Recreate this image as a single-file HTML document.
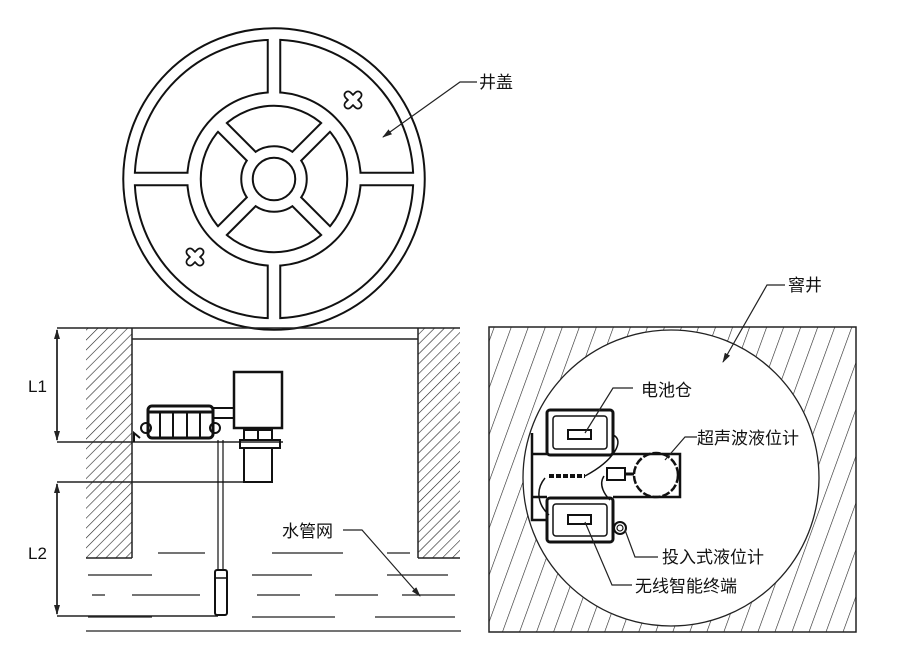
<!DOCTYPE html>
<html><head><meta charset="utf-8"><style>
html,body{margin:0;padding:0;background:#fff;}
svg{display:block;}
text{font-family:"Liberation Sans","Noto Sans CJK SC",sans-serif;font-size:17px;fill:#111;}
</style></head><body>
<svg width="899" height="667" viewBox="0 0 899 667" xmlns="http://www.w3.org/2000/svg">
<defs>
<pattern id="h1" width="7" height="10" patternUnits="userSpaceOnUse" patternTransform="rotate(45)">
<line x1="0" y1="0" x2="0" y2="10" stroke="#222" stroke-width="1.2"/></pattern>
<pattern id="h2" width="16" height="20" patternUnits="userSpaceOnUse" patternTransform="rotate(20)">
<line x1="0" y1="0" x2="0" y2="20" stroke="#222" stroke-width="1.2"/></pattern>
<marker id="ar" markerWidth="10" markerHeight="6" refX="9" refY="3" orient="auto" markerUnits="userSpaceOnUse">
<path d="M0,0 L10,3 L0,6 z" fill="#222"/></marker>
</defs>

<g transform="translate(274,179)" fill="none">
<g stroke="#111">
<circle r="145" stroke-width="13.5"/>
<circle r="80" stroke-width="15.5"/>
<circle r="27" stroke-width="13.5"/>
<g stroke-width="14.5">
<line x1="0" y1="-78" x2="0" y2="-146"/><line x1="0" y1="78" x2="0" y2="146"/>
<line x1="-78" y1="0" x2="-146" y2="0"/><line x1="78" y1="0" x2="146" y2="0"/>
<g transform="rotate(45)"><line x1="0" y1="-25" x2="0" y2="-80"/><line x1="0" y1="25" x2="0" y2="80"/>
<line x1="-25" y1="0" x2="-80" y2="0"/><line x1="25" y1="0" x2="80" y2="0"/></g>
</g></g>
<g stroke="#fff">
<circle r="145" stroke-width="9.5"/>
<circle r="80" stroke-width="11.5"/>
<circle r="27" stroke-width="9.5"/>
<g stroke-width="10.5">
<line x1="0" y1="-78" x2="0" y2="-146"/><line x1="0" y1="78" x2="0" y2="146"/>
<line x1="-78" y1="0" x2="-146" y2="0"/><line x1="78" y1="0" x2="146" y2="0"/>
<g transform="rotate(45)"><line x1="0" y1="-25" x2="0" y2="-80"/><line x1="0" y1="25" x2="0" y2="80"/>
<line x1="-25" y1="0" x2="-80" y2="0"/><line x1="25" y1="0" x2="80" y2="0"/></g>
</g></g>
</g>
<g stroke-linecap="round" fill="none">
<g transform="translate(353,100) rotate(45)"><path d="M-7,0H7M0,-7V7" stroke="#111" stroke-width="9"/><path d="M-7,0H7M0,-7V7" stroke="#fff" stroke-width="5.5"/></g>
<g transform="translate(195,257) rotate(45)"><path d="M-7,0H7M0,-7V7" stroke="#111" stroke-width="9"/><path d="M-7,0H7M0,-7V7" stroke="#fff" stroke-width="5.5"/></g>
</g>
<polyline points="477,82 460,82 383,137" fill="none" stroke="#222" stroke-width="1.2" marker-end="url(#ar)"/>
<text x="479" y="88">井盖</text>

<g stroke="#222" stroke-width="1.5" fill="none">
<rect x="86" y="328" width="46" height="230" fill="url(#h1)" stroke="none"/>
<rect x="418" y="328" width="42" height="230" fill="url(#h1)" stroke="none"/>
<line x1="57" y1="328" x2="460" y2="328"/>
<line x1="132" y1="339" x2="418" y2="339"/>
<line x1="132" y1="328" x2="132" y2="558"/>
<line x1="418" y1="328" x2="418" y2="558"/>
<line x1="86" y1="558" x2="132" y2="558"/>
<line x1="418" y1="558" x2="460" y2="558"/>
<line x1="57" y1="442" x2="283" y2="442"/>
<line x1="57" y1="482" x2="247" y2="482"/>
<line x1="57" y1="616" x2="218" y2="616"/>
<line x1="57" y1="330" x2="57" y2="440" marker-end="url(#ar)"/>
<line x1="57" y1="440" x2="57" y2="330" marker-end="url(#ar)"/>
<line x1="57" y1="484" x2="57" y2="614" marker-end="url(#ar)"/>
<line x1="57" y1="614" x2="57" y2="484" marker-end="url(#ar)"/>
</g>
<text x="28" y="392">L1</text>
<text x="28" y="559">L2</text>
<g stroke="#111" fill="none">
<rect x="148" y="406" width="65" height="32" rx="4" stroke-width="3"/>
<line x1="148" y1="412" x2="213" y2="412" stroke-width="3"/>
<line x1="160" y1="412" x2="160" y2="438" stroke-width="2"/>
<line x1="173" y1="412" x2="173" y2="438" stroke-width="2"/>
<line x1="187" y1="412" x2="187" y2="438" stroke-width="2"/>
<line x1="200" y1="412" x2="200" y2="438" stroke-width="2"/>
<circle cx="146" cy="428" r="5" stroke-width="2"/>
<circle cx="215" cy="428" r="5" stroke-width="2"/>
<rect x="213" y="408" width="21" height="10" stroke-width="2"/>
<rect x="234" y="372" width="48" height="56" stroke-width="2.5"/>
<rect x="244" y="430" width="14" height="10" stroke-width="2"/>
<rect x="258" y="430" width="14" height="10" stroke-width="2"/>
<rect x="240" y="440" width="40" height="8" stroke-width="2"/>
<rect x="244" y="448" width="28" height="34" stroke-width="2"/>
<path d="M134,442 L134,433 L140,438" stroke-width="2"/>
<line x1="218" y1="440" x2="218" y2="570" stroke-width="1.2"/>
<line x1="223" y1="440" x2="223" y2="570" stroke-width="1.2"/>
<rect x="215" y="570" width="12" height="45" rx="2" stroke-width="2"/>
<line x1="215" y1="578" x2="227" y2="578" stroke-width="1.5"/>
</g>
<g stroke="#222" stroke-width="1.3">
<path d="M158,553H205M272,553H343M387,553H410"/>
<path d="M88,575H152M252,575H312M387,575H448"/>
<path d="M92,595H105M132,595H200M257,595H300M335,595H378M402,595H455"/>
<path d="M88,617H152M252,617H335M375,617H455"/>
<path d="M86,631H461"/>
</g>
<text x="282" y="537">水管网</text>
<polyline points="343,530 362,530 420,596" fill="none" stroke="#222" stroke-width="1.2" marker-end="url(#ar)"/>

<rect x="489" y="327" width="367" height="305" fill="url(#h2)" stroke="#222" stroke-width="1.5"/>
<circle cx="671" cy="478" r="148" fill="#fff" stroke="#222" stroke-width="1.3"/>
<polyline points="785,285 767,285 723,362" fill="none" stroke="#222" stroke-width="1.2" marker-end="url(#ar)"/>
<text x="788" y="291">窨井</text>
<g stroke="#111" fill="none">
<path d="M532,433 V520 H547 M613,454 H680 V497 H613 M532,454 H547 M532,497 H547" stroke-width="2.5"/>
<rect x="547" y="410" width="66" height="45" rx="3" stroke-width="3"/>
<rect x="553" y="416" width="54" height="33" rx="3" stroke-width="1.5"/>
<rect x="568" y="430" width="23" height="9" stroke-width="2"/>
<rect x="547" y="498" width="66" height="44" rx="3" stroke-width="3"/>
<rect x="553" y="504" width="54" height="32" rx="3" stroke-width="1.5"/>
<rect x="568" y="515" width="23" height="9" stroke-width="2"/>
<circle cx="656" cy="475" r="22" stroke-width="2.5" stroke-dasharray="8 2"/>
<rect x="607" y="468" width="18" height="12" stroke-width="2"/>
<line x1="625" y1="474" x2="634" y2="474" stroke-width="3"/>
<path d="M549,476 H585" stroke-width="4" stroke-dasharray="5 2"/>
<circle cx="620" cy="528" r="6" stroke-width="2"/>
<circle cx="620" cy="528" r="3" stroke-width="1.2"/>
<path d="M613,435 C625,440 615,460 585,476" stroke-width="1.5"/>
<path d="M545,478 C535,490 538,505 549,515" stroke-width="1.5"/>
<path d="M604,476 C598,485 605,495 610,500" stroke-width="1.5"/>
</g>
<g fill="none" stroke="#222" stroke-width="1.2">
<polyline points="585,433 613,388 633,388"/>
<polyline points="665,460 685,437 697,437"/>
<polyline points="625,530 635,557 658,557"/>
<polyline points="585,522 612,585 632,585"/>
</g>
<text x="641" y="396">电池仓</text>
<text x="697" y="444">超声波液位计</text>
<text x="662" y="563">投入式液位计</text>
<text x="635" y="592">无线智能终端</text>
</svg>
</body></html>
